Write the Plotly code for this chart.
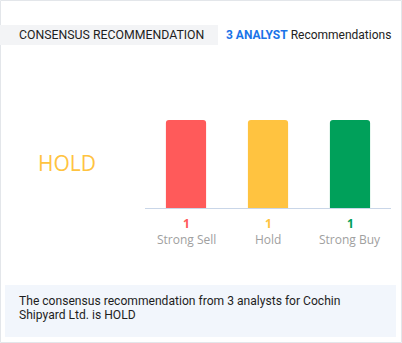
import plotly.graph_objects as go

W, H = 402, 343

categories = ["Strong Sell", "Hold", "Strong Buy"]
counts = [1, 1, 1]
bar_colors = ["#FF5A5A", "#FFC340", "#00A05A"]
analyst_count = 3
consensus = "HOLD"
company = "Cochin Shipyard Ltd."


def px_x(x):
    return x / W


def px_y(y):
    return 1 - y / H


fig = go.Figure()
fig.add_trace(go.Bar(
    x=categories,
    y=counts,
    marker=dict(color=bar_colors, line=dict(width=0)),
    width=0.49,
    hoverinfo="skip",
))

annotations = []
# counts and category names under each bar
for cat, val, col in zip(categories, counts, bar_colors):
    annotations.append(dict(
        x=cat, xref="x", y=px_y(224), yref="paper",
        text=f"<b>{val}</b>", showarrow=False,
        font=dict(family="Open Sans", size=12, color=col),
        xanchor="center", yanchor="middle",
    ))
    annotations.append(dict(
        x=cat, xref="x", y=px_y(239), yref="paper",
        text=cat, showarrow=False,
        font=dict(family="Open Sans", size=12, color="#A0A0A0"),
        xanchor="center", yanchor="middle",
    ))

# header
annotations.append(dict(
    x=px_x(17), y=px_y(35), xref="paper", yref="paper",
    text="CONSENSUS RECOMMENDATION", showarrow=False,
    font=dict(family="Roboto", size=12.3, color="#1E1E1E"),
    xanchor="left", yanchor="middle",
))
annotations.append(dict(
    x=px_x(224), y=px_y(35), xref="paper", yref="paper",
    text=(f"<span style='color:#1A73E8'><b>{analyst_count} ANALYST</b></span>"
          " Recommendations"),
    showarrow=False,
    font=dict(family="Roboto", size=12, color="#222222"),
    xanchor="left", yanchor="middle",
))

# consensus label
annotations.append(dict(
    x=px_x(36), y=px_y(163), xref="paper", yref="paper",
    text=consensus, showarrow=False,
    font=dict(family="Open Sans", size=21, color=bar_colors[1]),
    xanchor="left", yanchor="middle",
))

# summary sentence, two lines
summary_lines = [
    f"The consensus recommendation from {analyst_count} analysts for Cochin",
    f"Shipyard Ltd. is {consensus}",
]
for line, ypx in zip(summary_lines, [301, 315]):
    annotations.append(dict(
        x=px_x(17), y=px_y(ypx), xref="paper", yref="paper",
        text=line, showarrow=False, align="left",
        font=dict(family="Roboto", size=12.1, color="#1E1E1E"),
        xanchor="left", yanchor="middle",
    ))

shapes = [
    # card outline
    dict(type="rect", xref="paper", yref="paper",
         x0=px_x(0.5), x1=px_x(401.5), y0=px_y(342.5), y1=px_y(0.5),
         line=dict(color="#E3E6EA", width=1), fillcolor="rgba(0,0,0,0)",
         layer="below"),
    # header background
    dict(type="rect", xref="paper", yref="paper",
         x0=px_x(0), x1=px_x(218), y0=px_y(45), y1=px_y(25),
         line=dict(width=0), fillcolor="#F3F4F6", layer="below"),
    # summary background
    dict(type="rect", xref="paper", yref="paper",
         x0=px_x(5), x1=px_x(396), y0=px_y(337), y1=px_y(285),
         line=dict(width=0), fillcolor="#F2F6FC", layer="below"),
    # baseline
    dict(type="line", xref="paper", yref="paper",
         x0=px_x(145), x1=px_x(391), y0=px_y(208.5), y1=px_y(208.5),
         line=dict(color="#C9D6E8", width=1.2)),
]

fig.update_layout(
    width=W, height=H,
    margin=dict(l=0, r=0, t=0, b=0),
    paper_bgcolor="white", plot_bgcolor="white",
    showlegend=False,
    barcornerradius=3,
    xaxis=dict(domain=[px_x(145), px_x(391)], showticklabels=False,
               showgrid=False, zeroline=False, showline=False, fixedrange=True),
    yaxis=dict(domain=[px_y(208), px_y(120)], range=[0, 1],
               showticklabels=False, showgrid=False, zeroline=False,
               showline=False, fixedrange=True),
    annotations=annotations,
    shapes=shapes,
)

fig.write_html("out.html", config={"displayModeBar": False})
